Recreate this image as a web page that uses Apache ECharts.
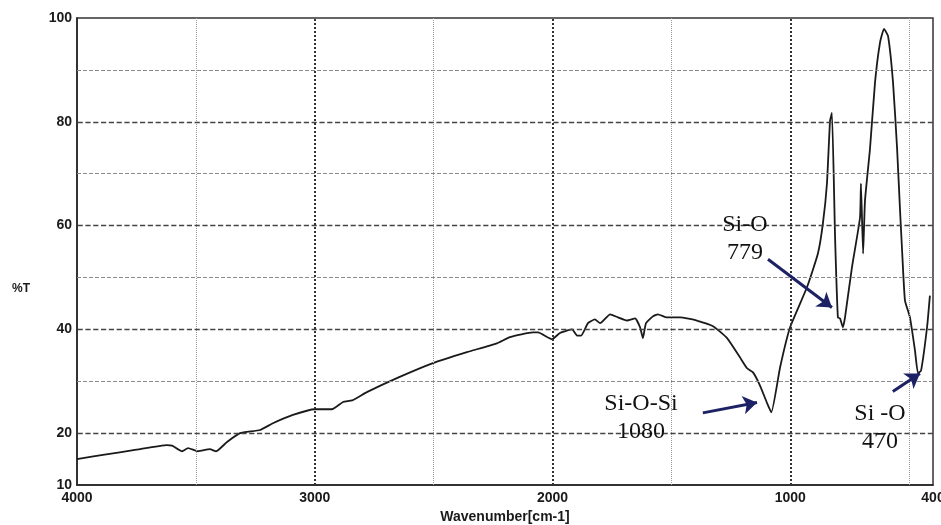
<!DOCTYPE html>
<html>
<head>
<meta charset="utf-8">
<script src="https://cdn.jsdelivr.net/npm/echarts@6/dist/echarts.min.js"></script>
<style>
  html, body { margin: 0; padding: 0; background: #fff; }
  #main { width: 941px; height: 525px; }
</style>
</head>
<body>
<div id="main"></div>
<script>
// FTIR spectrum: [wavenumber, %T]
var spectrum = [
	[4000, 15.0], [3891, 15.8], [3750, 16.8], [3622, 17.7], [3600, 17.6],
	[3558, 16.5], [3533, 17.1], [3491, 16.5], [3441, 16.9], [3415, 16.5],
	[3369, 18.3], [3314, 20.0], [3230, 20.6], [3176, 21.9], [3092, 23.5],
	[3000, 24.6], [2928, 24.6], [2881, 26.0], [2843, 26.3], [2781, 27.9],
	[2650, 30.7], [2503, 33.5], [2360, 35.6], [2234, 37.3], [2179, 38.5],
	[2082, 39.4], [2061, 39.4], [2002, 38.1], [1969, 39.3], [1918, 40.0],
	[1897, 38.8], [1880, 38.8], [1851, 41.2], [1822, 41.9], [1800, 41.2],
	[1758, 42.9], [1725, 42.3], [1687, 41.7], [1653, 42.1], [1632, 40.4],
	[1620, 38.3], [1607, 41.2], [1578, 42.5], [1557, 42.9], [1519, 42.3],
	[1464, 42.3], [1393, 41.7], [1325, 40.6], [1266, 38.3], [1212, 34.6],
	[1182, 32.5], [1157, 31.7], [1128, 29.2], [1098, 25.8], [1080, 24.0],
	[1043, 32.7], [1001, 40.4], [930, 48.1], [884, 54.6], [863, 60.4],
	[846, 68.1], [833, 80.2], [825, 81.7], [812, 58.0], [800, 42.3],
	[791, 42.1], [779, 40.4], [770, 42.3], [741, 51.9], [707, 61.5],
	[703, 68.1], [694, 54.6], [686, 64.8], [665, 74.8], [644, 87.5],
	[623, 95.2], [606, 97.9], [589, 96.5], [568, 87.5], [551, 74.8],
	[539, 63.3], [530, 55.2], [518, 45.6], [497, 42.3], [476, 36.0],
	[463, 31.5], [450, 32.1], [425, 40.4], [413, 46.5]
];

// tick labels
var xLabels = [4000, 3000, 2000, 1000, 400];
var yLabels = [10, 20, 40, 60, 80, 100];

// grid lines
var xMajor = [1000, 2000, 3000];
var xMinor = [500, 1500, 2500, 3500];
var yMajor = [20, 40, 60, 80];
var yMinor = [30, 50, 70, 90];

// peak labels: [wavenumber, %T, text]
var peakLabels = [
	[1628, 22.9, 'Si-O-Si\n1080'],
	[1191, 57.4, 'Si-O\n779'],
	[623, 21.1, 'Si -O\n470']
];
// arrows: [from wavenumber, from %T, to wavenumber, to %T]
var peakArrows = [
	[1094, 53.5, 825, 44.2],
	[1368, 23.9, 1140, 25.9],
	[569, 28.0, 455, 31.5]
];

var myChart = echarts.init(document.getElementById('main'));

function gridLine(list, key, color, type, width) {
	return list.map(function (v) {
		var d = {};
		d[key] = v;
		d.lineStyle = { color: color, type: type, width: width };
		return d;
	});
}

var gridData = []
	.concat(gridLine(xMinor, 'xAxis', '#9a9a9a', 'dotted', 1))
	.concat(gridLine(xMajor, 'xAxis', '#333', 'dotted', 2))
	.concat(gridLine(yMinor, 'yAxis', '#8a8a8a', 'dashed', 1))
	.concat(gridLine(yMajor, 'yAxis', '#444', 'dashed', 1.3));

var arrowData = peakArrows.map(function (a) {
	return [{ coord: [a[0], a[1]] }, { coord: [a[2], a[3]] }];
});

var tickFont = {
	color: '#1a1a1a',
	fontFamily: 'Liberation Sans, Arial, sans-serif',
	fontWeight: 'bold',
	fontSize: 14
};

var option = {
	backgroundColor: '#fff',
	animation: false,
	grid: {
		left: 77, right: 8, top: 18, bottom: 40,
		outerBoundsMode: 'none',
		show: true, borderColor: '#333', borderWidth: 1.5
	},
	graphic: [{
		type: 'text', left: 12, top: 283,
		style: { text: '%T', font: 'bold 12px "Liberation Sans", Arial, sans-serif', fill: '#1a1a1a' }
	}],
	xAxis: {
		type: 'value',
		inverse: true,
		min: 400,
		max: 4000,
		interval: 100,
		name: 'Wavenumber[cm-1]',
		nameLocation: 'middle',
		nameGap: 24,
		nameTextStyle: tickFont,
		axisLine: { show: true, lineStyle: { color: '#222', width: 1.5 } },
		axisTick: { show: false },
		splitLine: { show: false },
		axisLabel: Object.assign({
			margin: 6,
			showMinLabel: true,
			showMaxLabel: true,
			formatter: function (v) {
				return xLabels.indexOf(v) >= 0 ? String(v) : '';
			}
		}, tickFont)
	},
	yAxis: {
		type: 'value',
		min: 10,
		max: 100,
		interval: 10,
		axisLine: { show: true, lineStyle: { color: '#222', width: 1.5 } },
		axisTick: { show: false },
		splitLine: { show: false },
		axisLabel: Object.assign({
			margin: 5,
			formatter: function (v) {
				return yLabels.indexOf(v) >= 0 ? String(v) : '';
			}
		}, tickFont)
	},
	series: [{
		name: 'grid',
		type: 'line',
		data: [],
		z: 1,
		silent: true,
		markLine: {
			silent: true,
			symbol: ['none', 'none'],
			label: { show: false },
			data: gridData
		}
	}, {
		name: '%T',
		type: 'line',
		data: spectrum,
		z: 3,
		showSymbol: false,
		smooth: 0.15,
		lineStyle: { color: '#1a1a1a', width: 1.8 }
	}, {
		name: 'arrows',
		type: 'line',
		data: [],
		z: 5,
		markLine: {
			silent: true,
			symbol: ['none', 'arrow'],
			symbolSize: 14,
			label: { show: false },
			lineStyle: { color: '#1c2263', width: 3, type: 'solid' },
			data: arrowData
		}
	}, {
		name: 'labels',
		type: 'scatter',
		data: peakLabels,
		z: 6,
		symbolSize: 1,
		itemStyle: { color: 'rgba(0,0,0,0)', opacity: 1 },
		label: {
			show: true,
			position: 'inside',
			align: 'center',
			color: '#111',
			fontFamily: 'Liberation Serif, Times New Roman, serif',
			fontSize: 24,
			lineHeight: 28,
			formatter: function (p) { return p.data[2]; }
		}
	}]
};

myChart.setOption(option);
</script>
</body>
</html>
